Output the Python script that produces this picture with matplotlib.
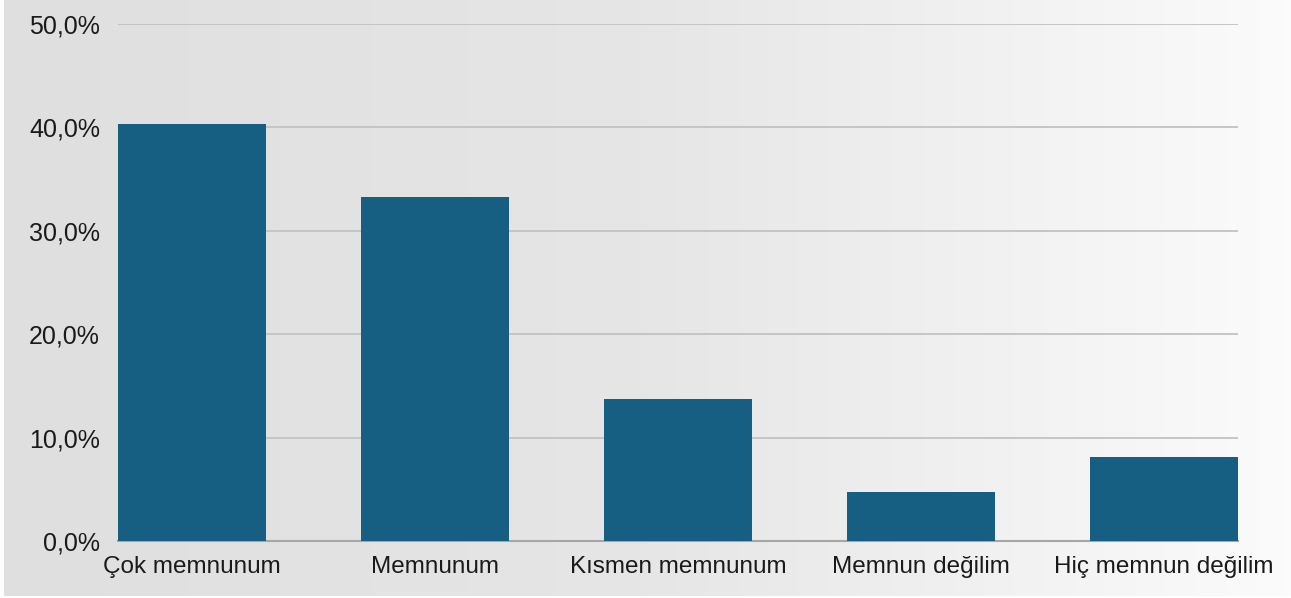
import numpy as np
import matplotlib.pyplot as plt
from matplotlib.colors import LinearSegmentedColormap

kategoriler = ['Çok memnunum', 'Memnunum', 'Kısmen memnunum', 'Memnun değilim', 'Hiç memnun değilim']
oranlar = [40.3, 33.3, 13.7, 4.7, 8.1]
y_ticks = [0, 10, 20, 30, 40, 50]
y_etiket = ['0,0%', '10,0%', '20,0%', '30,0%', '40,0%', '50,0%']

W, H = 1291, 598
fig = plt.figure(figsize=(W / 100, H / 100), dpi=100)
fig.patch.set_facecolor('white')

# arka plan: soldan saga gri -> beyaz gecis
bg = fig.add_axes([4 / W, 2 / H, 1 - 4 / W, 1 - 2 / H], zorder=0)
grad = np.linspace(0, 1, 256).reshape(1, -1)
cmap = LinearSegmentedColormap.from_list('bg', ['#dfdfdf', '#e6e6e6', '#fbfbfb'])
bg.imshow(grad, aspect='auto', cmap=cmap, extent=[0, 1, 0, 1])
bg.set_axis_off()

ax = fig.add_axes([118 / W, 1 - 541 / H, (1238 - 118) / W, (541 - 24) / H], zorder=1)
ax.patch.set_alpha(0)

w = 0.61
x = np.arange(len(kategoriler))
ax.bar(x, oranlar, width=w, color='#165f82', zorder=3)
ax.set_xlim(-w / 2, len(kategoriler) - 1 + w / 2)
ax.set_ylim(0, 50)

ax.set_yticks(y_ticks)
ax.set_yticklabels(y_etiket, fontsize=18, fontfamily='Liberation Sans', color='#1a1a1a')
ax.set_xticks(x)
ax.set_xticklabels(kategoriler, fontsize=17.5, fontfamily='Liberation Sans', color='#1a1a1a')
ax.tick_params(axis='both', length=0)
ax.tick_params(axis='y', pad=13)
ax.tick_params(axis='x', pad=11)

ax.grid(axis='y', color='#c2c2c2', linewidth=1.3, zorder=0)
for s in ['top', 'right', 'left']:
    ax.spines[s].set_visible(False)
ax.spines['bottom'].set_color('#a6a6a6')
ax.spines['bottom'].set_linewidth(1.5)

fig.savefig('out.png', dpi=100)
